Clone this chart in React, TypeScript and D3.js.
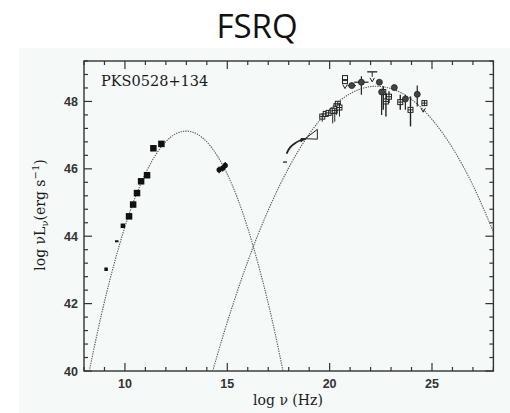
import React from 'react';
import * as d3 from 'd3';

const W = 510;
const H = 413;
const FRAME = { left: 84, right: 493.4, top: 61, bottom: 371 };

// axis labels
const X_TICKS = [10, 15, 20, 25];
const Y_TICKS = [40, 42, 44, 46, 48];

// model curves (synchrotron and inverse-Compton components)
const SYNC_NU = [8.26, 9, 10, 11, 12, 13, 14, 15, 16, 17, 17.72];
const SYNC_L = [40.0, 42.06, 44.28, 45.86, 46.81, 47.12, 46.8, 45.84, 44.24, 42.01, 40.0];
const IC_NU = [14.29, 15, 16, 17, 18, 19, 20, 21, 22, 23, 24, 25, 26, 27, 28];
const IC_L = [40.0, 41.45, 43.25, 44.77, 46.03, 47.03, 47.76, 48.23, 48.44, 48.38, 48.06, 47.47, 46.62, 45.51, 44.13];

// radio / mm
const RADIO_NU = [9.08, 9.6, 9.9, 10.2, 10.4, 10.59, 10.79, 11.08, 11.39, 11.78];
const RADIO_L = [43.02, 43.85, 44.31, 44.59, 44.94, 45.28, 45.63, 45.81, 46.61, 46.74];

// optical
const OPT_NU = [14.6, 14.77, 14.9];
const OPT_L = [45.97, 46.02, 46.1];

// soft X-ray
const SX_NU = [17.82];
const SX_L = [46.2];
const SPEC_NU = [17.9, 18.06, 18.31, 18.55, 18.8];
const SPEC_L = [46.45, 46.63, 46.76, 46.84, 46.89];
const BOW_NU = [18.6, 19.4];
const BOW_UP = [46.8, 47.17];
const BOW_LO = [46.9, 46.88];

// hard X-ray
const HX_NU = [19.64, 19.81, 19.95, 20.15, 20.25, 20.33, 20.4, 20.48];
const HX_L = [47.55, 47.63, 47.66, 47.72, 47.73, 47.86, 47.93, 47.82];
const HX_LO = [47.4, 47.58, 47.6, 47.35, 47.4, 47.6, 47.85, 47.55];
const HX_HI = [47.65, 47.68, 47.72, 47.8, 47.85, 48.0, 48.0, 47.95];

// gamma-ray, square symbols
const GS_NU = [22.62, 22.75, 22.9, 23.45, 23.95, 24.63];
const GS_L = [48.28, 48.0, 48.14, 47.98, 47.75, 47.95];
const GS_LO = [47.75, 47.55, 47.95, 47.75, 47.26, 47.9];
const GS_HI = [48.45, 48.25, 48.3, 48.2, 48.15, 48.0];

// gamma-ray, circle symbols
const GC_NU = [21.08, 21.55, 22.43, 22.54, 23.16, 23.7, 24.28];
const GC_L = [48.47, 48.57, 48.57, 48.28, 48.41, 48.07, 48.21];
const GC_LO = [48.4, 48.2, 48.5, 47.6, 48.35, 47.75, 47.85];
const GC_HI = [48.55, 48.75, 48.63, 48.35, 48.46, 48.2, 48.47];
const GC_DX = [0.2, 0.35, 0.1, 0.1, 0.1, 0.1, 0.1];

// upper limits
const UL_NU = [20.75, 22.08, 24.57];
const UL_L = [48.5, 48.7, 47.8];

export default function App() {
  const x = d3.scaleLinear().domain([8, 28]).range([FRAME.left, FRAME.right]);
  const y = d3.scaleLinear().domain([40, 49.2]).range([FRAME.bottom, FRAME.top]);

  const minorX = d3.range(8, 28.001, 1);
  const minorY = d3.range(40, 49.2, 0.4);

  const line = d3
    .line<[number, number]>()
    .x((d) => x(d[0]))
    .y((d) => y(d[1]))
    .curve(d3.curveNatural);

  const syncPath = line(SYNC_NU.map((v, i) => [v, SYNC_L[i]]));
  const icPath = line(IC_NU.map((v, i) => [v, IC_L[i]]));
  const specPath = line(SPEC_NU.map((v, i) => [v, SPEC_L[i]]));

  const bowPath =
    `M${x(BOW_NU[0])},${y(BOW_UP[0])}L${x(BOW_NU[1])},${y(BOW_UP[1])}` +
    `L${x(BOW_NU[1])},${y(BOW_LO[1])}L${x(BOW_NU[0])},${y(BOW_LO[0])}Z`;

  const ink = '#1a1a1a';
  const serif = "'DejaVu Serif', serif";

  return (
    <svg
      width={W}
      height={H}
      style={{ position: 'absolute', left: 0, top: 0, background: '#ffffff' }}
    >
      <text
        x={257}
        y={38}
        textAnchor="middle"
        fontFamily="'Open Sans', sans-serif"
        fontSize={33}
        fill="#111"
      >
        FSRQ
      </text>
      <rect x={19} y={48} width={W - 19} height={H - 48} fill="#f5f9f7" />

      <defs>
        <clipPath id="plot-clip">
          <rect
            x={FRAME.left}
            y={FRAME.top}
            width={FRAME.right - FRAME.left}
            height={FRAME.bottom - FRAME.top}
          />
        </clipPath>
      </defs>

      {/* frame */}
      <rect
        x={FRAME.left}
        y={FRAME.top}
        width={FRAME.right - FRAME.left}
        height={FRAME.bottom - FRAME.top}
        fill="none"
        stroke="#333"
        strokeWidth={1.4}
      />

      {/* x ticks, bottom and top */}
      {minorX.map((v) => {
        const len = X_TICKS.includes(v) ? 8 : 4;
        return (
          <g key={`xt${v}`} stroke="#333" strokeWidth={1.2}>
            <line x1={x(v)} x2={x(v)} y1={FRAME.bottom} y2={FRAME.bottom - len} />
            <line x1={x(v)} x2={x(v)} y1={FRAME.top} y2={FRAME.top + len} />
          </g>
        );
      })}
      {/* y ticks, left and right */}
      {minorY.map((v) => {
        const major = Y_TICKS.some((t) => Math.abs(t - v) < 1e-6);
        const len = major ? 8 : 4;
        return (
          <g key={`yt${v.toFixed(1)}`} stroke="#333" strokeWidth={1.2}>
            <line x1={FRAME.left} x2={FRAME.left + len} y1={y(v)} y2={y(v)} />
            <line x1={FRAME.right} x2={FRAME.right - len} y1={y(v)} y2={y(v)} />
          </g>
        );
      })}

      {X_TICKS.map((v) => (
        <text
          key={`xl${v}`}
          x={x(v)}
          y={388}
          textAnchor="middle"
          fontFamily="'Liberation Sans', Arial, sans-serif"
          fontWeight="bold"
          fontSize={12.5}
          fill="#333"
        >
          {v}
        </text>
      ))}
      {Y_TICKS.map((v) => (
        <text
          key={`yl${v}`}
          x={78}
          y={y(v) + 4.5}
          textAnchor="end"
          fontFamily="'Liberation Sans', Arial, sans-serif"
          fontWeight="bold"
          fontSize={12.5}
          fill="#333"
        >
          {v}
        </text>
      ))}

      <text x={288} y={405} textAnchor="middle" fontFamily={serif} fontSize={14} fill={ink}>
        log ν (Hz)
      </text>
      <text
        transform="translate(45,215) rotate(-90)"
        textAnchor="middle"
        fontFamily={serif}
        fontSize={14}
        fill={ink}
      >
        log νL
        <tspan fontSize={10} dy={3}>ν</tspan>
        <tspan dy={-3}>(erg s</tspan>
        <tspan fontSize={10} dy={-6}>−1</tspan>
        <tspan dy={6}>)</tspan>
      </text>
      <text x={101} y={86} fontFamily={serif} fontSize={14.5} fill={ink}>
        PKS0528+134
      </text>

      <g clipPath="url(#plot-clip)">
        <path d={syncPath ?? ''} fill="none" stroke="#555" strokeWidth={1.1} strokeDasharray="1.3 1.1" />
        <path d={icPath ?? ''} fill="none" stroke="#555" strokeWidth={1.1} strokeDasharray="1.3 1.1" />
      </g>

      {/* radio */}
      {RADIO_NU.map((v, i) => {
        const s = v < 9.7 ? 3.5 : v < 10.1 ? 4.5 : 6.5;
        return (
          <rect
            key={`r${i}`}
            x={x(v) - s / 2}
            y={y(RADIO_L[i]) - (v > 9.5 && v < 9.7 ? 1 : s / 2)}
            width={s}
            height={v > 9.5 && v < 9.7 ? 2 : s}
            fill="#111"
          />
        );
      })}

      {/* optical */}
      {OPT_NU.map((v, i) => (
        <g key={`o${i}`} stroke="#111" strokeWidth={1.2}>
          <line x1={x(v)} x2={x(v)} y1={y(OPT_L[i] - 0.1)} y2={y(OPT_L[i] + 0.1)} />
          <circle cx={x(v)} cy={y(OPT_L[i])} r={2} fill="#111" />
        </g>
      ))}

      {/* soft X-ray */}
      {SX_NU.map((v, i) => (
        <line key={`sx${i}`} x1={x(v) - 2} x2={x(v) + 2} y1={y(SX_L[i])} y2={y(SX_L[i])} stroke="#333" strokeWidth={1.4} />
      ))}
      <path d={specPath ?? ''} fill="none" stroke="#222" strokeWidth={1.8} />
      <path d={bowPath} fill="none" stroke="#222" strokeWidth={1} />

      {/* hard X-ray */}
      {HX_NU.map((v, i) => (
        <g key={`hx${i}`} stroke="#222" strokeWidth={1}>
          <line x1={x(v)} x2={x(v)} y1={y(HX_LO[i])} y2={y(HX_HI[i])} />
          <rect x={x(v) - 2.5} y={y(HX_L[i]) - 2.5} width={5} height={5} fill="#f5f9f7" />
          <line x1={x(v) - 2.5} x2={x(v) + 2.5} y1={y(HX_L[i])} y2={y(HX_L[i])} />
          <line x1={x(v)} x2={x(v)} y1={y(HX_L[i]) - 2.5} y2={y(HX_L[i]) + 2.5} />
        </g>
      ))}

      {/* gamma-ray squares */}
      {GS_NU.map((v, i) => (
        <g key={`gs${i}`} stroke="#222" strokeWidth={1}>
          <line x1={x(v)} x2={x(v)} y1={y(GS_LO[i])} y2={y(GS_HI[i])} strokeWidth={1.4} />
          <rect x={x(v) - 2.5} y={y(GS_L[i]) - 2.5} width={5} height={5} fill="#f5f9f7" />
          <line x1={x(v) - 2.5} x2={x(v) + 2.5} y1={y(GS_L[i])} y2={y(GS_L[i])} />
          <line x1={x(v)} x2={x(v)} y1={y(GS_L[i]) - 2.5} y2={y(GS_L[i]) + 2.5} />
        </g>
      ))}

      {/* gamma-ray circles */}
      {GC_NU.map((v, i) => (
        <g key={`gc${i}`} stroke="#222" strokeWidth={1.2}>
          <line x1={x(v)} x2={x(v)} y1={y(GC_LO[i])} y2={y(GC_HI[i])} />
          <line x1={x(v - GC_DX[i])} x2={x(v + GC_DX[i])} y1={y(GC_L[i])} y2={y(GC_L[i])} />
          <circle cx={x(v)} cy={y(GC_L[i])} r={3} fill="#444" strokeWidth={0.8} />
        </g>
      ))}

      {/* upper limits */}
      {UL_NU.map((v, i) => {
        const cx = x(v);
        const cy = y(UL_L[i]);
        return (
          <g key={`ul${i}`} stroke="#222" strokeWidth={1} fill="none">
            {i === 0 && <rect x={cx - 2.5} y={cy - 9} width={5} height={5} />}
            {i === 0 && <rect x={cx - 2.5} y={cy - 5} width={5} height={4} />}
            {i === 1 && <line x1={cx - 5} x2={cx + 5} y1={cy - 6} y2={cy - 6} strokeWidth={1.3} />}
            {i === 1 && <line x1={cx} x2={cx} y1={cy - 6} y2={cy - 1} />}
            <path d={`M${cx - 2.2},${cy}L${cx},${cy + 4}L${cx + 2.2},${cy}`} />
          </g>
        );
      })}
    </svg>
  );
}
